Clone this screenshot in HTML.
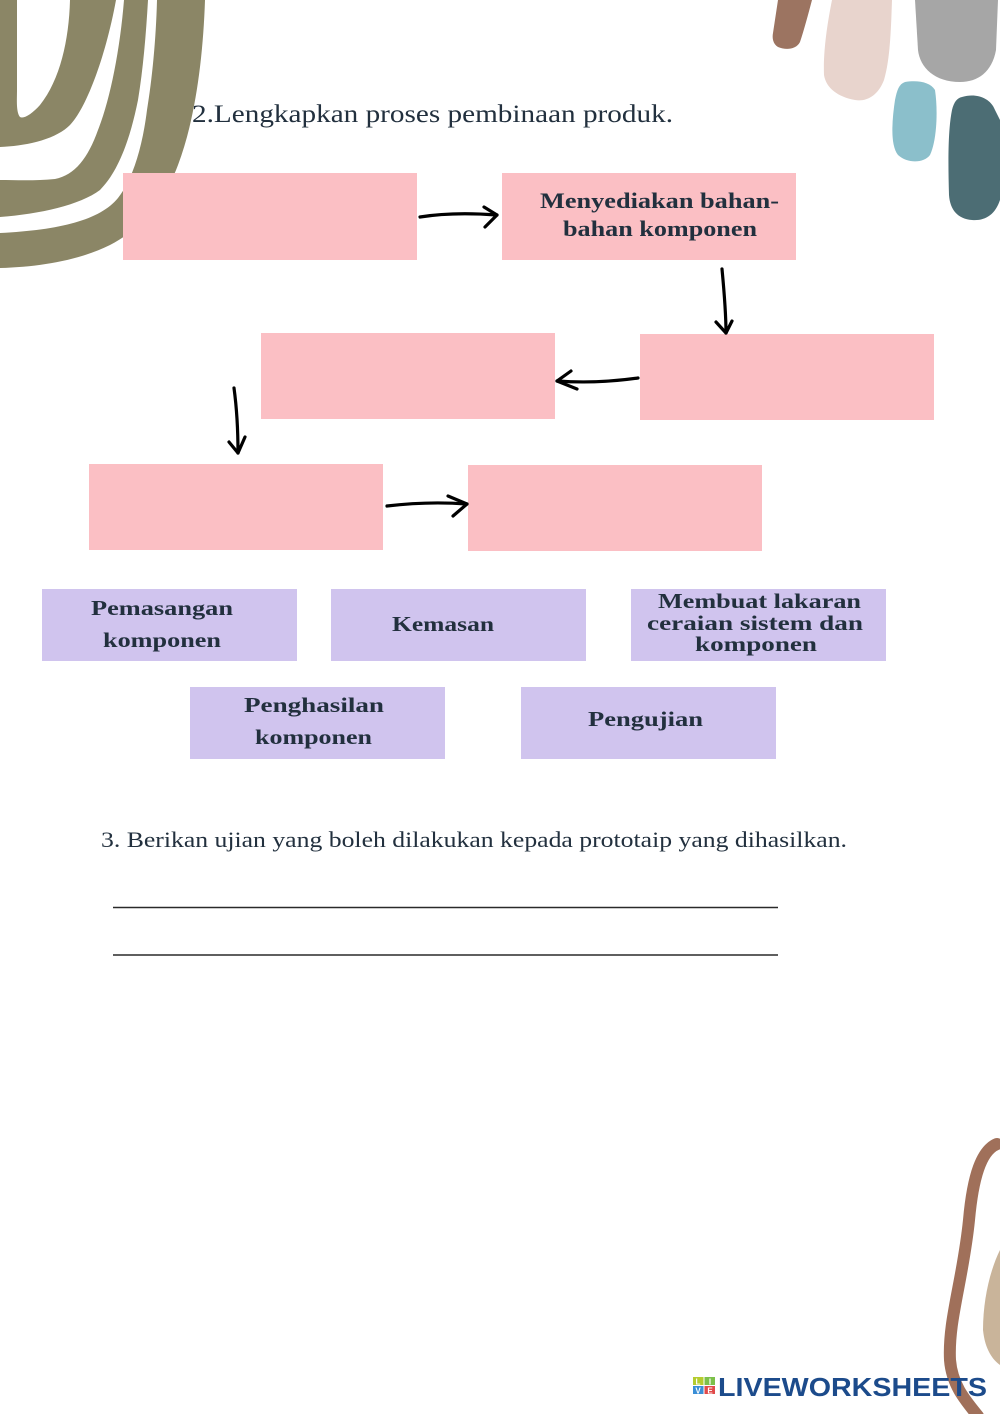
<!DOCTYPE html>
<html>
<head>
<meta charset="utf-8">
<style>
  html,body{margin:0;padding:0;background:#fff;}
  svg{display:block;}
  .t{font-family:"Liberation Serif",serif;fill:#22303e;}
  .b{font-weight:bold;}
</style>
</head>
<body>
<svg width="1000" height="1414" viewBox="0 0 1000 1414" xmlns="http://www.w3.org/2000/svg">
  <rect width="1000" height="1414" fill="#ffffff"/>

  <!-- top-left olive thumbprint -->
  <path d="M0,0 L205,0 C203,60 195,120 178,165 C165,200 140,230 110,245 C80,260 40,267 0,268 Z" fill="#8b8666"/>
  <path d="M17,0 L70,0 C69,40 60,80 40,105 C32,114 24,119 20,117 C16,112 17,100 17,90 Z" fill="#fff"/>
  <path d="M0,147 C25,146 55,140 70,125 C85,110 105,60 116,0 L124,0 C120,50 110,100 98,130 C88,158 75,175 55,179 C35,181 15,180 0,180 Z" fill="#fff"/>
  <path d="M0,217 C40,214 80,205 100,190 C118,172 130,140 138,100 C143,70 146,35 148,0 L157,0 C156,40 152,80 147,110 C142,150 132,180 118,198 C100,220 60,230 0,233 Z" fill="#fff"/>

  <!-- top-right blobs -->
  <path d="M778,0 L812,0 C808,15 804,30 800,42 C796,50 785,50 778,47 C773,44 772,38 773,33 Z" fill="#9c7461"/>
  <path d="M832,0 L892,0 C891,30 890,60 884,80 C878,96 866,102 855,100 C838,97 826,88 824,75 C823,50 828,20 832,0 Z" fill="#e8d4cd"/>
  <path d="M915,0 L998,0 L996,50 C992,72 978,82 960,82 C935,82 920,68 918,50 Z" fill="#a6a6a6"/>
  <path d="M905,82 C918,80 930,82 935,90 C938,110 937,140 930,155 C924,163 908,164 898,155 C890,145 892,120 895,100 C897,90 899,84 905,82 Z" fill="#8bbfcb"/>
  <path d="M962,97 C975,93 990,97 995,110 L1000,120 L1000,200 C995,215 985,221 972,220 C958,219 950,210 949,195 C948,160 948,130 952,110 C954,102 957,98 962,97 Z" fill="#4c6d74"/>

  <!-- bottom-right decoration -->
  <path d="M1000,1250 C990,1270 983,1300 983,1330 C985,1350 993,1360 1000,1365 Z" fill="#c9b49a"/>
  <path d="M997,1144 C982,1150 973,1175 969,1220 C963,1280 948,1320 950,1360 C952,1385 965,1400 978,1416" fill="none" stroke="#a0705a" stroke-width="12" stroke-linecap="round"/>

  <!-- title -->
  <text class="t" x="192" y="122" font-size="25" textLength="481" lengthAdjust="spacingAndGlyphs">2.Lengkapkan proses pembinaan produk.</text>

  <!-- pink boxes -->
  <rect x="123" y="173" width="294" height="87" fill="#fbbfc4"/>
  <rect x="502" y="173" width="294" height="87" fill="#fbbfc4"/>
  <rect x="261" y="333" width="294" height="86" fill="#fbbfc4"/>
  <rect x="640" y="334" width="294" height="86" fill="#fbbfc4"/>
  <rect x="89" y="464" width="294" height="86" fill="#fbbfc4"/>
  <rect x="468" y="465" width="294" height="86" fill="#fbbfc4"/>

  <text class="t b" x="540" y="208" font-size="22" textLength="239" lengthAdjust="spacingAndGlyphs">Menyediakan bahan-</text>
  <text class="t b" x="563" y="236" font-size="22" textLength="194" lengthAdjust="spacingAndGlyphs">bahan komponen</text>

  <!-- arrows -->
  <g fill="none" stroke="#000" stroke-width="3.2" stroke-linecap="round" stroke-linejoin="round">
    <path d="M420,217 C445,213 470,213 497,215"/>
    <path d="M484,207 L497,215 L485,227"/>

    <path d="M722,269 C724,290 726,312 726,333"/>
    <path d="M716,322 L726,333 L732,321"/>

    <path d="M638,378 C610,382 585,383 557,381"/>
    <path d="M571,371 L557,381 L577,389"/>

    <path d="M234,388 C237,410 238,432 238,453"/>
    <path d="M229,442 L238,453 L245,437"/>

    <path d="M387,506 C412,503 440,502 467,504"/>
    <path d="M448,496 L467,504 L453,516"/>
  </g>

  <!-- purple answer boxes -->
  <rect x="42" y="589" width="255" height="72" fill="#d0c4ee"/>
  <rect x="331" y="589" width="255" height="72" fill="#d0c4ee"/>
  <rect x="631" y="589" width="255" height="72" fill="#d0c4ee"/>
  <rect x="190" y="687" width="255" height="72" fill="#d0c4ee"/>
  <rect x="521" y="687" width="255" height="72" fill="#d0c4ee"/>

  <text class="t b" x="91" y="615" font-size="21" textLength="142" lengthAdjust="spacingAndGlyphs">Pemasangan</text>
  <text class="t b" x="103" y="647" font-size="21" textLength="118" lengthAdjust="spacingAndGlyphs">komponen</text>

  <text class="t b" x="392" y="631" font-size="21" textLength="102" lengthAdjust="spacingAndGlyphs">Kemasan</text>

  <text class="t b" x="658" y="608" font-size="21" textLength="203" lengthAdjust="spacingAndGlyphs">Membuat lakaran</text>
  <text class="t b" x="647" y="630" font-size="21" textLength="216" lengthAdjust="spacingAndGlyphs">ceraian sistem dan</text>
  <text class="t b" x="695" y="651" font-size="21" textLength="122" lengthAdjust="spacingAndGlyphs">komponen</text>

  <text class="t b" x="244" y="712" font-size="21" textLength="140" lengthAdjust="spacingAndGlyphs">Penghasilan</text>
  <text class="t b" x="255" y="744" font-size="21" textLength="117" lengthAdjust="spacingAndGlyphs">komponen</text>

  <text class="t b" x="588" y="726" font-size="21" textLength="115" lengthAdjust="spacingAndGlyphs">Pengujian</text>

  <!-- question 3 -->
  <text class="t" x="101" y="847" font-size="22" textLength="746" lengthAdjust="spacingAndGlyphs">3. Berikan ujian yang boleh dilakukan kepada prototaip yang dihasilkan.</text>
  <line x1="113" y1="907.5" x2="778" y2="907.5" stroke="#2a2a2a" stroke-width="1.4"/>
  <line x1="113" y1="955" x2="778" y2="955" stroke="#2a2a2a" stroke-width="1.4"/>

  <!-- liveworksheets logo -->
  <g font-family="Liberation Sans, sans-serif" font-weight="bold" font-size="9" fill="#fff" text-anchor="middle">
    <rect x="693" y="1377" width="10.5" height="8" fill="#b5cc2e"/>
    <rect x="704.5" y="1377" width="10.5" height="8" fill="#7cc04a"/>
    <rect x="693" y="1386" width="10.5" height="8" fill="#3a8ed6"/>
    <rect x="704.5" y="1386" width="10.5" height="8" fill="#e04a4a"/>
    <text x="698" y="1384.5" font-size="8">L</text>
    <text x="710" y="1384.5" font-size="8">I</text>
    <text x="698" y="1393.5" font-size="8">V</text>
    <text x="710" y="1393.5" font-size="8">E</text>
  </g>
  <text x="718" y="1396" font-family="Liberation Sans, sans-serif" font-weight="bold" font-size="26" fill="#1c4b8b" textLength="269" lengthAdjust="spacingAndGlyphs">LIVEWORKSHEETS</text>
</svg>
</body>
</html>
